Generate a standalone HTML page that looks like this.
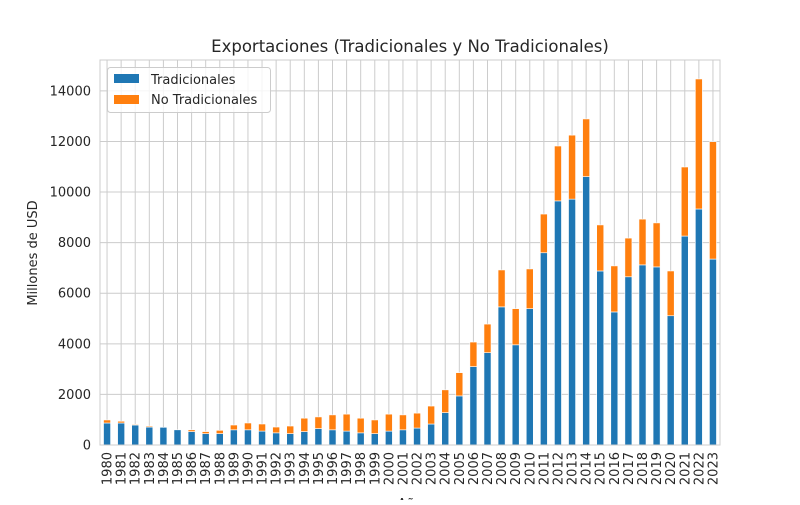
<!DOCTYPE html>
<html><head><meta charset="utf-8"><style>
body{margin:0;background:#fff;}
svg{font-family:"DejaVu Sans","Liberation Sans",sans-serif;}
</style></head><body>
<svg id="chart" width="800" height="500" xmlns="http://www.w3.org/2000/svg">
<rect width="800" height="500" fill="#fff"/>
<g id="grid"></g>
<g id="bars"></g>
<rect x="100" y="60" width="620" height="385" fill="none" stroke="#cccccc" stroke-width="1"/>
<g id="yticks"></g>
<g id="xticks"></g>
<text x="410" y="52" text-anchor="middle" font-size="16.5" fill="#262626">Exportaciones (Tradicionales y No Tradicionales)</text>
<text transform="translate(37,253) rotate(-90)" text-anchor="middle" font-size="13" fill="#262626">Millones de USD</text>
<text x="410" y="508" text-anchor="middle" font-size="13" fill="#262626">Año</text>
<g>
<rect x="107.5" y="67.5" width="163" height="45" rx="3" fill="#fff" fill-opacity="0.8" stroke="#cccccc"/>
<rect x="114" y="74" width="25" height="9" fill="#1f77b4"/>
<text x="151" y="84" font-size="13" fill="#262626">Tradicionales</text>
<rect x="114" y="95" width="25" height="9" fill="#ff7f0e"/>
<text x="151" y="104" font-size="13" fill="#262626">No Tradicionales</text>
</g>
</svg>
<script>
const years=[1980,1981,1982,1983,1984,1985,1986,1987,1988,1989,1990,1991,1992,1993,1994,1995,1996,1997,1998,1999,2000,2001,2002,2003,2004,2005,2006,2007,2008,2009,2010,2011,2012,2013,2014,2015,2016,2017,2018,2019,2020,2021,2022,2023];
const tradicionales=[870,870,790,710,700,600,530,450,450,600,600,550,480,450,530,650,600,550,480,450,550,600,670,830,1280,1940,3100,3650,5460,3960,5390,7600,9650,9720,10610,6880,5260,6650,7120,7040,5110,8260,9330,7350];
const totales=[990,940,820,750,700,600,600,530,580,790,870,830,710,750,1060,1110,1190,1220,1060,990,1220,1190,1260,1540,2180,2860,4070,4780,6920,5390,6960,9130,11820,12250,12890,8700,7080,8180,8930,8780,6880,10990,14470,11990];
const noTradicionales=totales.map((t,i)=>Math.max(0,t-tradicionales[i]));
const yTicks=[0,2000,4000,6000,8000,10000,12000,14000];
const X0=100,X1=720,Y0=445,Y1=60,YMAX=15220;
const ns="http://www.w3.org/2000/svg";
const step=(X1-X0)/years.length;
const xs=i=>X0+step*(i+0.5);
const ys=v=>Y0-(v/YMAX)*(Y0-Y1);
function mk(tag,attrs,parent){const e=document.createElementNS(ns,tag);for(const k in attrs)e.setAttribute(k,attrs[k]);parent.appendChild(e);return e;}
const grid=document.getElementById('grid'),bars=document.getElementById('bars'),yt=document.getElementById('yticks'),xt=document.getElementById('xticks');
yTicks.forEach(v=>{
 const l=mk('line',{x1:X0,x2:X1,y1:ys(v),y2:ys(v),stroke:'#cccccc','stroke-width':1},grid);
 
 
 const t=mk('text',{x:X0-9,y:ys(v)+4.5,'text-anchor':'end','font-size':13,fill:'#262626'},yt);
 t.textContent=v;
 
 
});
const bw=step*0.5;
years.forEach((yr,i)=>{
 const x=xs(i);
 const g=mk('line',{x1:x,x2:x,y1:Y1,y2:Y0,stroke:'#cccccc','stroke-width':1},grid);
 
 
 const b=mk('rect',{x:x-bw/2,y:ys(tradicionales[i]),width:bw,height:Y0-ys(tradicionales[i]),fill:'#1f77b4',stroke:'#fff','stroke-width':0.6},bars);
 
 
 const top=tradicionales[i]+noTradicionales[i];
 const o=mk('rect',{x:x-bw/2,y:ys(top),width:bw,height:ys(tradicionales[i])-ys(top),fill:'#ff7f0e',stroke:'#fff','stroke-width':0.6},bars);
 
 
 const t=mk('text',{transform:`translate(${x+4.5},${Y0+7}) rotate(-90)`,'text-anchor':'end','font-size':13,fill:'#262626'},xt);
 t.textContent=yr;
 
 
});
</script>
</body></html>
